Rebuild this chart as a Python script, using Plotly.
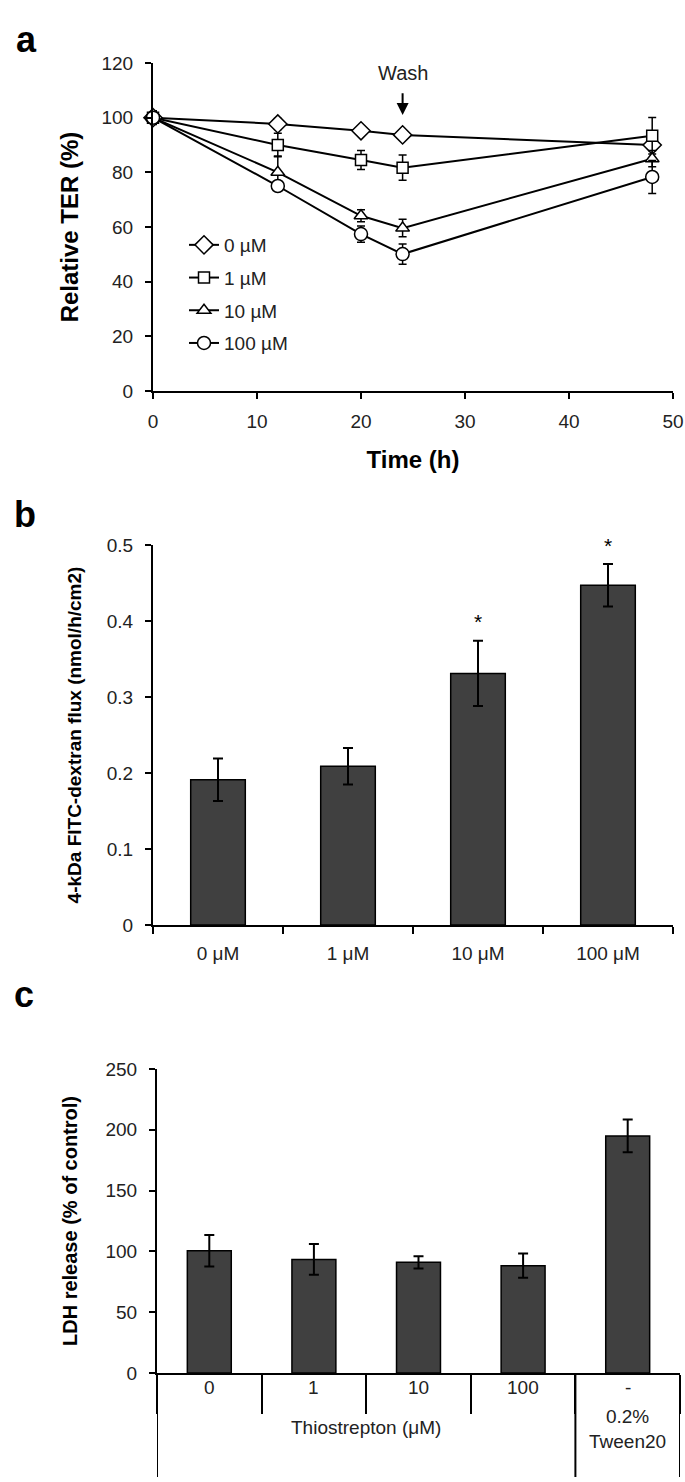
import plotly.graph_objects as go

# ---------------- data ----------------
time_h = [0, 12, 20, 24, 48]
ter_0 = [100, 97.7, 95.2, 93.7, 90.0]
ter_0_err = [2.5, 2.0, 1.2, 1.2, 2.0]
ter_1 = [100, 90.0, 84.5, 81.7, 93.4]
ter_1_err = [2.0, 4.3, 3.5, 4.6, 6.7]
ter_10 = [100, 80.0, 64.1, 59.6, 85.0]
ter_10_err = [2.0, 6.0, 2.2, 3.2, 3.0]
ter_100 = [100, 75.0, 57.4, 50.1, 78.3]
ter_100_err = [2.0, 1.5, 3.0, 3.7, 6.0]
ter_labels = ["0 µM", "1 µM", "10 µM", "100 µM"]

flux_cats = ["0 μM", "1 μM", "10 μM", "100 μM"]
flux_vals = [0.191, 0.209, 0.331, 0.447]
flux_err = [0.028, 0.024, 0.043, 0.028]
flux_sig = ["", "", "*", "*"]

ldh_cats = ["0", "1", "10", "100", "-"]
ldh_vals = [100.5, 93.4, 91.0, 88.3, 195.0]
ldh_err = [13.0, 12.6, 5.0, 10.0, 13.5]
ldh_group1 = "Thiostrepton (μM)"
ldh_group2 = "0.2%<br>Tween20"

# ---------------- layout geometry ----------------
W, H = 685, 1482
FONT = "Liberation Sans, Arial, sans-serif"
TXT = "#222"
TICK = 19


def px_x(p):
    return p / W


def px_y(p):
    return 1 - p / H


fig = go.Figure()

# ----- panel a -----
symbols = ["diamond", "square", "triangle-up", "circle"]
sizes = [14, 11, 12, 13]
series = [(ter_0, ter_0_err), (ter_1, ter_1_err), (ter_10, ter_10_err), (ter_100, ter_100_err)]
for i, (vals, errs) in enumerate(series):
    fig.add_trace(go.Scatter(
        x=time_h, y=vals, name=ter_labels[i], mode="lines+markers",
        line=dict(color="black", width=2),
        marker=dict(symbol=symbols[i], size=sizes[i], color="white",
                    line=dict(color="black", width=1.5)),
        error_y=dict(type="data", array=errs, color="black", thickness=1.5, width=4),
        cliponaxis=False, xaxis="x", yaxis="y", legendgroup=f"g{i}",
    ))

# ----- panel b -----
fig.add_trace(go.Bar(
    x=flux_cats, y=flux_vals, width=0.42,
    marker=dict(color="#404040", line=dict(color="black", width=1.5)),
    error_y=dict(type="data", array=flux_err, color="black", thickness=2, width=5),
    xaxis="x2", yaxis="y2", showlegend=False,
))
fig.add_trace(go.Scatter(
    x=flux_cats, y=[v + e + 0.022 for v, e in zip(flux_vals, flux_err)],
    text=flux_sig, mode="text", textposition="middle center",
    textfont=dict(family=FONT, size=21, color="black"),
    xaxis="x2", yaxis="y2", showlegend=False, cliponaxis=False,
))

# ----- panel c -----
fig.add_trace(go.Bar(
    x=ldh_cats, y=ldh_vals, width=0.42,
    marker=dict(color="#404040", line=dict(color="black", width=1.5)),
    error_y=dict(type="data", array=ldh_err, color="black", thickness=2, width=5),
    xaxis="x3", yaxis="y3", showlegend=False,
))

axis_common = dict(showline=True, linecolor="black", linewidth=2, showgrid=False,
                   zeroline=False, ticks="outside", tickcolor="black", tickwidth=2,
                   automargin=False,
                   tickfont=dict(family=FONT, size=TICK, color=TXT))

# domains (reference pixel positions)
a_x = [px_x(153), px_x(673)]
a_y = [px_y(391), px_y(63)]
b_x = [px_x(153), px_x(673)]
b_y = [px_y(925), px_y(545)]
c_x = [px_x(157), px_x(680)]
c_y = [px_y(1373), px_y(1069)]

fig.update_layout(
    width=W, height=H, margin=dict(l=0, r=0, t=0, b=0, autoexpand=False),
    paper_bgcolor="white", plot_bgcolor="white",
    font=dict(family=FONT, color="black"),
    xaxis=dict(domain=a_x, anchor="y", range=[0, 50], dtick=10, ticklen=6,
               ticklabelstandoff=6,
               title=dict(text="<b>Time (h)</b>", font=dict(family=FONT, size=24), standoff=20),
               **axis_common),
    yaxis=dict(domain=a_y, anchor="x", range=[0, 120], dtick=20, ticklen=6,
               ticklabelstandoff=8,
               title=dict(text="<b>Relative TER (%)</b>", font=dict(family=FONT, size=24), standoff=16),
               **axis_common),
    xaxis2=dict(domain=b_x, anchor="y2", type="category", range=[-0.5, 3.5],
                tickson="boundaries", ticklen=7, ticklabelstandoff=10, **axis_common),
    yaxis2=dict(domain=b_y, anchor="x2", range=[0, 0.5], dtick=0.1, ticklen=6,
                ticklabelstandoff=8,
                title=dict(text="<b>4-kDa FITC-dextran flux (nmol/h/cm2)</b>",
                           font=dict(family=FONT, size=19), standoff=20),
                **axis_common),
    xaxis3=dict(domain=c_x, anchor="y3", type="category", range=[-0.5, 4.5],
                tickson="boundaries", ticklen=39, showticklabels=False, **axis_common),
    yaxis3=dict(domain=c_y, anchor="x3", range=[0, 250], dtick=50, ticklen=6,
                ticklabelstandoff=8,
                title=dict(text="<b>LDH release (% of control)</b>",
                           font=dict(family=FONT, size=20), standoff=22),
                **axis_common),
    legend=dict(x=px_x(184), y=px_y(226), xanchor="left", yanchor="top",
                bgcolor="rgba(0,0,0,0)", font=dict(family=FONT, size=TICK, color=TXT),
                tracegroupgap=5, itemwidth=30),
    showlegend=True,
)

annotations = []
# panel letters
for letter, (lx, ly) in zip(["a", "b", "c"], [(14, 17), (12, 514), (12, 1017)]):
    annotations.append(dict(text=f"<b>{letter}</b>", x=px_x(lx), y=px_y(ly), xref="paper", yref="paper",
                            showarrow=False, font=dict(family=FONT, size=36, color="black")))
# wash arrow
annotations.append(dict(text="Wash", x=24, y=116.5, xref="x", yref="y", showarrow=False,
                        font=dict(family=FONT, size=20, color=TXT)))
annotations.append(dict(text="", x=24, y=101, ax=24, ay=109.5, xref="x", yref="y",
                        axref="x", ayref="y", showarrow=True, arrowhead=2, arrowsize=1.2,
                        arrowwidth=2, arrowcolor="black"))
# panel c category labels (positioned by category index)
for i, cat in enumerate(ldh_cats):
    annotations.append(dict(text=cat, x=i, y=px_y(1400), xref="x3", yref="paper",
                            showarrow=False, font=dict(family=FONT, size=TICK, color=TXT)))
annotations.append(dict(text=ldh_group1, x=(len(ldh_cats) - 2) / 2, y=px_y(1440), xref="x3", yref="paper",
                        showarrow=False, font=dict(family=FONT, size=TICK, color=TXT)))
annotations.append(dict(text=ldh_group2, x=len(ldh_cats) - 1, y=px_y(1454), xref="x3", yref="paper",
                        showarrow=False, font=dict(family=FONT, size=TICK, color=TXT)))
fig.update_layout(annotations=annotations)

# long table lines in panel c
for b in [-0.5, len(ldh_cats) - 1.5, len(ldh_cats) - 0.5]:
    fig.add_shape(type="line", x0=b, x1=b, xref="x3", yref="paper",
                  y0=c_y[0], y1=px_y(1477), line=dict(color="black", width=2))

fig.write_html("out.html", config={"displayModeBar": False},
               post_script="document.body.style.margin='0';document.body.style.overflow='hidden';")
